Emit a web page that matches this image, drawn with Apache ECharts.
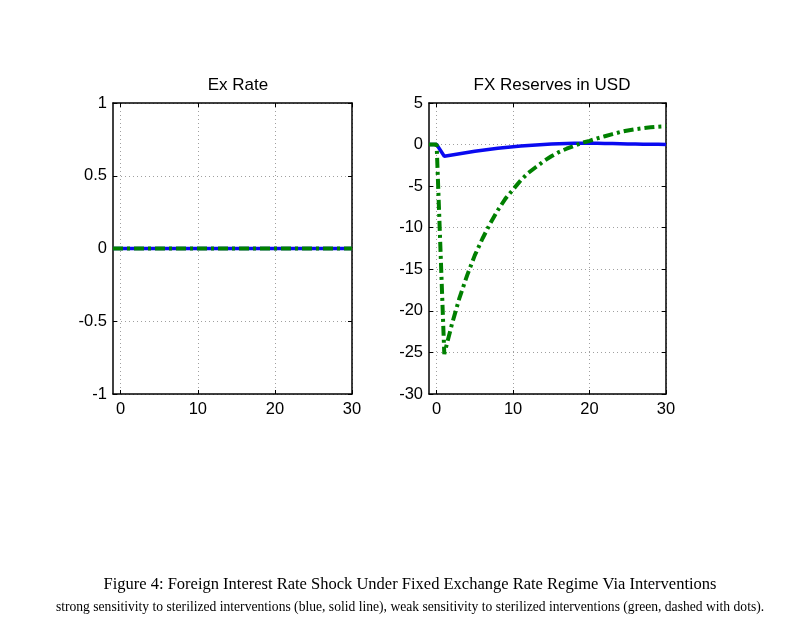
<!DOCTYPE html>
<html>
<head>
<meta charset="utf-8">
<script src="https://cdn.jsdelivr.net/npm/echarts@6/dist/echarts.min.js"></script>
<style>
  html, body { margin: 0; padding: 0; background: #fff; }
  #main { width: 811px; height: 637px; }
</style>
</head>
<body>
<div id="main"></div>
<script>
// horizon -1..30 (period -1 is the pre-shock steady state)
const periods = [-1,0,1,2,3,4,5,6,7,8,9,10,11,12,13,14,15,16,17,18,19,20,21,22,23,24,25,26,27,28,29,30];

// Ex Rate: flat under both settings
const exRateStrong = [0,0,0,0,0,0,0,0,0,0,0,0,0,0,0,0,0,0,0,0,0,0,0,0,0,0,0,0,0,0,0,0];
const exRateWeak   = [0,0,0,0,0,0,0,0,0,0,0,0,0,0,0,0,0,0,0,0,0,0,0,0,0,0,0,0,0,0,0,0];

// FX reserves
const fxStrong = [0,0,-1.4,-1.25,-1.1,-0.95,-0.8,-0.68,-0.56,-0.45,-0.35,-0.26,-0.18,-0.1,-0.04,0.02,0.06,
                  0.1,0.13,0.15,0.16,0.16,0.15,0.14,0.12,0.1,0.08,0.07,0.05,0.04,0.03,0.02];
const fxWeak = [0,0,-25.2,-21.6,-18.4,-15.7,-13.3,-11.3,-9.5,-7.9,-6.5,-5.4,-4.3,-3.4,-2.7,-2.0,-1.4,
                -0.9,-0.5,-0.15,0.2,0.45,0.75,1.0,1.25,1.5,1.7,1.85,1.97,2.07,2.15,2.2];

const xTicks = [0, 10, 20, 30];
const exTicks = { min: -1, max: 1, step: 0.5 };
const fxTicks = { min: -30, max: 5, step: 5 };

const titles = ['Ex Rate', 'FX Reserves in USD'];
const caption = 'Figure 4: Foreign Interest Rate Shock Under Fixed Exchange Rate Regime Via Interventions';
const subCaption = 'strong sensitivity to sterilized interventions (blue, solid line), weak sensitivity to sterilized interventions (green, dashed with dots).';

const BLUE = '#0a0af0';
const GREEN = '#008000';
const FONT = 'Liberation Sans, Arial, sans-serif';
const SERIF = 'Liberation Serif, Times New Roman, serif';

const pair = (xs, ys) => xs.map((x, i) => [x, ys[i]]);

const chart = echarts.init(document.getElementById('main'), null, { renderer: 'canvas' });

const grids = [
  { left: 113, top: 103, width: 239, height: 291 },
  { left: 429, top: 103, width: 237, height: 291 }
];

const gridStyle = { show: true, lineStyle: { color: '#a0a0a0', width: 1, type: [1, 3] } };

function xAxes(gi) {
  return [
    {
      gridIndex: gi, type: 'value', min: -1, max: 30, position: 'bottom',
      axisLine: { show: true, onZero: false, lineStyle: { color: '#000', width: 1.5 } },
      axisTick: { show: true, inside: true, length: 4, customValues: xTicks, lineStyle: { color: '#000' } },
      axisLabel: { customValues: xTicks, color: '#000', fontSize: 16.5, fontFamily: FONT, margin: 7 },
      splitLine: gridStyle
    },
    {
      gridIndex: gi, type: 'value', min: -1, max: 30, position: 'top',
      axisLine: { show: true, onZero: false, lineStyle: { color: '#000', width: 1.5 } },
      axisTick: { show: true, inside: true, length: 4, customValues: xTicks, lineStyle: { color: '#000' } },
      axisLabel: { show: false },
      splitLine: { show: false }
    }
  ];
}

function yAxes(gi, t) {
  return [
    {
      gridIndex: gi, type: 'value', min: t.min, max: t.max, interval: t.step, position: 'left',
      axisLine: { show: true, onZero: false, lineStyle: { color: '#000', width: 1.5 } },
      axisTick: { show: true, inside: true, length: 4, lineStyle: { color: '#000' } },
      axisLabel: { color: '#000', fontSize: 16.5, fontFamily: FONT, margin: 6 },
      splitLine: gridStyle
    },
    {
      gridIndex: gi, type: 'value', min: t.min, max: t.max, interval: t.step, position: 'right',
      axisLine: { show: true, onZero: false, lineStyle: { color: '#000', width: 1.5 } },
      axisTick: { show: true, inside: true, length: 4, lineStyle: { color: '#000' } },
      axisLabel: { show: false },
      splitLine: { show: false }
    }
  ];
}

function line(xi, yi, data, color, dashed, z) {
  return {
    type: 'line', xAxisIndex: xi, yAxisIndex: yi, data: data,
    showSymbol: false, symbol: 'none', animation: false, z: z,
    lineStyle: { color: color, width: dashed ? 4 : 3.5, type: dashed ? [10, 4, 3, 4] : 'solid' }
  };
}

chart.setOption({
  backgroundColor: '#fff',
  animation: false,
  title: [
    { text: titles[0], left: 233, top: 72, textAlign: 'center',
      textStyle: { fontSize: 17, fontWeight: 'normal', color: '#000', fontFamily: FONT } },
    { text: titles[1], left: 547, top: 72, textAlign: 'center',
      textStyle: { fontSize: 17, fontWeight: 'normal', color: '#000', fontFamily: FONT } },
    { text: caption, left: 405, top: 571, textAlign: 'center',
      textStyle: { fontSize: 16.5, fontWeight: 'normal', color: '#000', fontFamily: SERIF } },
    { text: subCaption, left: 405, top: 595, textAlign: 'center',
      textStyle: { fontSize: 13.6, fontWeight: 'normal', color: '#000', fontFamily: SERIF } }
  ],
  grid: grids,
  xAxis: xAxes(0).concat(xAxes(1)),
  yAxis: yAxes(0, exTicks).concat(yAxes(1, fxTicks)),
  series: [
    line(0, 0, pair(periods, exRateStrong), BLUE, false, 2),
    line(0, 0, pair(periods, exRateWeak), GREEN, true, 3),
    line(2, 2, pair(periods, fxStrong), BLUE, false, 2),
    line(2, 2, pair(periods, fxWeak), GREEN, true, 3)
  ]
});
</script>
</body>
</html>
